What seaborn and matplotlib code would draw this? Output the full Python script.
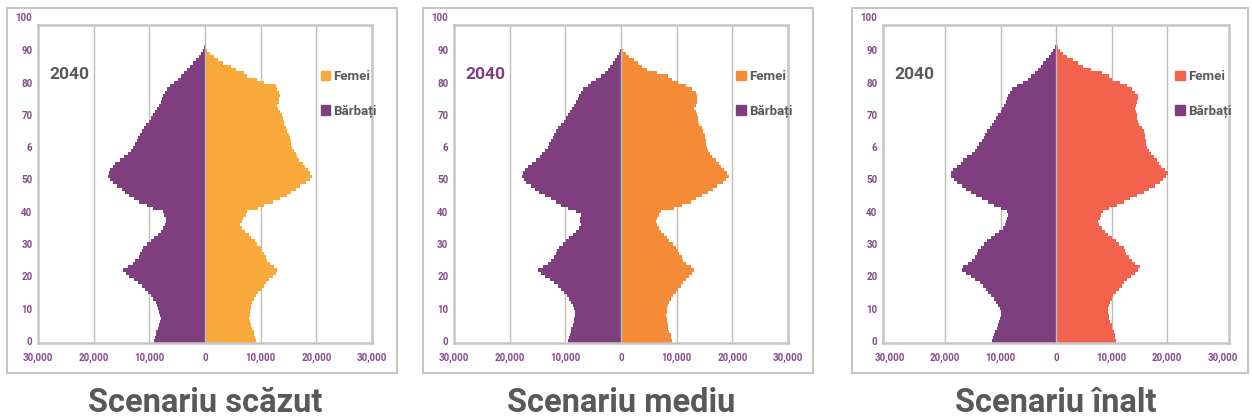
import numpy as np
import pandas as pd
import seaborn as sns
import matplotlib.pyplot as plt
from matplotlib.patches import Rectangle, Patch

ages = list(range(98))

# Scenariu scazut
low_women = [9100, 8900, 8800, 8700, 8500, 8200, 8100, 7900, 8000, 8100,
             8200, 8200, 8400, 8700, 9100, 9500, 10000, 10600, 11000, 11500,
             12200, 12700, 13000, 12400, 11700, 11200, 10900, 10600, 10300, 10000,
             9400, 8900, 8200, 7800, 7200, 6700, 6300, 6600, 6900, 7300,
             7600, 9500, 10600, 12200, 13500, 14800, 15500, 16300, 17100, 18200,
             18800, 19200, 18900, 18500, 17900, 17600, 16800, 16600, 16400, 16000,
             15600, 15400, 15400, 15300, 15000, 14800, 14600, 14200, 14100, 14000,
             13900, 13500, 13100, 13000, 13300, 13300, 13400, 13300, 13000, 12700,
             10600, 9400, 7600, 7000, 5600, 4600, 3300, 2400, 1600, 900,
             400, 250, 200, 150, 150, 100, 100, 100]
low_men = [9200, 9000, 8900, 8800, 8500, 8300, 8100, 8000, 8100, 8200,
           8400, 8600, 8900, 9300, 9700, 10200, 10800, 11400, 12000, 12800,
           13600, 14200, 14700, 13800, 13000, 12500, 11900, 11600, 11400, 11100,
           10500, 9700, 9100, 8500, 8000, 7500, 7200, 7000, 7100, 7300,
           7600, 9300, 10500, 11800, 12700, 13600, 14300, 15000, 15800, 16600,
           17000, 17500, 17300, 17000, 16600, 16200, 15300, 14500, 13900, 13300,
           12900, 12600, 12300, 12000, 11700, 11300, 10900, 10600, 10100, 9700,
           9300, 9000, 8700, 8300, 7900, 7700, 7500, 7200, 6800, 6300,
           5600, 4900, 4300, 3700, 3200, 2700, 2200, 1600, 1100, 700,
           400, 150, 50, 30, 20, 10, 10, 10]

# Scenariu mediu
mid_women = [9100, 9000, 8900, 8700, 8500, 8400, 8300, 8200, 8100, 8200,
             8300, 8500, 8700, 9000, 9300, 9800, 10300, 10800, 11200, 11600,
             12200, 12800, 13200, 12600, 11700, 11200, 10900, 10500, 10200, 9900,
             9300, 8700, 8200, 7700, 7200, 6800, 6400, 6300, 6500, 6800,
             7200, 9600, 11000, 12500, 13500, 14600, 15600, 16500, 17300, 18300,
             18900, 19400, 19000, 18500, 18000, 17600, 17000, 16400, 16000, 15700,
             15500, 15300, 15200, 15100, 15000, 14800, 14600, 14100, 13900, 13800,
             13700, 13500, 13200, 13400, 13600, 13700, 13700, 13400, 12700, 11700,
             10200, 9200, 8500, 6500, 4600, 3800, 3000, 2300, 1500, 900,
             400, 250, 200, 150, 150, 100, 100, 100]
mid_men = [9500, 9300, 9200, 9000, 8900, 8700, 8500, 8400, 8300, 8300,
           8400, 8600, 8900, 9300, 9700, 10300, 10800, 11300, 12000, 12800,
           13600, 14300, 14900, 14000, 13200, 12600, 12000, 11700, 11500, 11100,
           10500, 9900, 9300, 8700, 8000, 7500, 7200, 7300, 7300, 7200,
           8100, 9500, 10800, 11600, 12600, 13700, 14700, 15500, 16200, 17000,
           17400, 17800, 17600, 17200, 16700, 16000, 15300, 14600, 14100, 13600,
           13200, 12900, 12600, 12300, 12000, 11700, 11400, 10800, 10300, 9900,
           9600, 9200, 8800, 8400, 8100, 7800, 7500, 7200, 6900, 6000,
           5300, 4400, 3600, 2900, 2400, 1900, 1500, 1100, 700, 400,
           150, 50, 30, 20, 10, 10, 10, 10]

# Scenariu inalt
high_women = [10800, 10700, 10600, 10400, 10100, 10000, 9800, 9600, 9500, 9400,
              9400, 9600, 9800, 10000, 10300, 10800, 11300, 11800, 12300, 12800,
              13500, 14200, 14800, 15200, 14300, 13700, 13100, 12700, 12400, 12200,
              11400, 10800, 10000, 9300, 8800, 8300, 7800, 7600, 7900, 8100,
              8400, 9600, 11000, 12300, 13300, 14600, 15800, 16800, 17800, 18800,
              19300, 19800, 20100, 19600, 19000, 18600, 18200, 17700, 17200, 16800,
              16400, 16300, 16200, 16100, 16000, 15800, 15500, 15000, 14700, 14600,
              14600, 14500, 14200, 14400, 14600, 14800, 14800, 14300, 13700, 12800,
              11500, 10000, 9500, 8200, 6300, 4800, 3900, 3000, 2000, 1200,
              700, 400, 250, 200, 150, 100, 100, 100]
high_men = [11600, 11400, 11200, 11000, 10700, 10500, 10200, 10100, 10000, 10000,
            10100, 10400, 10800, 11200, 11700, 12200, 12700, 13200, 13800, 14600,
            15400, 16300, 17000, 16800, 15900, 15200, 14600, 14300, 14000, 13600,
            13000, 12500, 11800, 11000, 10300, 9500, 9200, 9000, 8800, 8600,
            8900, 10000, 11200, 12300, 13300, 14400, 15300, 16200, 17000, 17800,
            18400, 18900, 19000, 18500, 17800, 17200, 16700, 16000, 15200, 14700,
            14300, 13900, 13400, 13000, 12800, 12400, 12000, 11600, 11200, 10800,
            10500, 10000, 9700, 9400, 9100, 8800, 8600, 8300, 7900, 7000,
            5900, 5100, 4500, 3800, 3300, 2800, 2300, 1800, 1300, 900,
            600, 200, 80, 40, 20, 10, 10, 10]

titles = ["Scenariu scăzut", "Scenariu mediu", "Scenariu înalt"]
women_colors = ["#F9A83A", "#F58A37", "#F2624C"]
year_colors = ["#595959", "#7F3F7F", "#595959"]
men_color = "#7F3F7F"
tick_color = "#86488A"
x_ticks = [-30000, -20000, -10000, 0, 10000, 20000, 30000]
x_labels = ["30,000", "20,000", "10,000", "0", "10,000", "20,000", "30,000"]
y_ticks = [0, 10, 20, 30, 40, 50, 60, 70, 80, 90]
y_labels = ["0", "10", "20", "30", "40", "50", "6", "70", "80", "90"]

sns.set_theme(style="white")
plt.rcParams["font.family"] = ["Roboto", "DejaVu Sans"]

fig = plt.figure(figsize=(12.52, 4.19), dpi=100)

# axes boxes (fig fractions) and outer frames
ax_pos = [[0.0304, 0.1814, 0.2668, 0.759],
          [0.3626, 0.1814, 0.2668, 0.759],
          [0.7053, 0.1814, 0.2764, 0.759]]
frames = [[0.0056, 0.1098, 0.3115, 0.871],
          [0.3379, 0.1098, 0.3115, 0.871],
          [0.6805, 0.1098, 0.3165, 0.871]]
xlims = [(-30000, 30000), (-30000, 30000), (-31200, 31200)]
data = [(low_women, low_men), (mid_women, mid_men), (high_women, high_men)]

for i in range(3):
    women, men = data[i]
    df = pd.DataFrame({
        "age": ages + ages,
        "value": list(women) + [-v for v in men],
        "sex": ["Femei"] * len(ages) + ["Bărbați"] * len(ages),
    })
    ax = fig.add_axes(ax_pos[i])
    sns.barplot(data=df, x="value", y="age", hue="sex", orient="h",
                native_scale=True, dodge=False, width=1, errorbar=None,
                palette={"Femei": women_colors[i], "Bărbați": men_color},
                saturation=1, linewidth=0, legend=False, ax=ax)
    ax.set_xlim(*xlims[i])
    ax.set_ylim(-0.6, 97.8)
    for g in [-20000, -10000, 10000, 20000]:
        ax.axvline(g, color="#BDBDBD", lw=1, zorder=0)
    ax.axvline(0, color="#BDBDBD", lw=1, zorder=5)
    for s in ax.spines.values():
        s.set_color("#C6C6C6")
        s.set_linewidth(1.8)
    ax.set_xticks(x_ticks)
    ax.set_xticklabels(x_labels)
    ax.set_yticks(y_ticks)
    ax.set_yticklabels(y_labels)
    ax.tick_params(axis="both", length=0, labelsize=7, labelcolor=tick_color)
    ax.tick_params(axis="x", pad=7)
    ax.tick_params(axis="y", pad=4)
    for lab in ax.get_xticklabels() + ax.get_yticklabels():
        lab.set_fontweight("bold")
    ax.text(-0.018, 100, "100", transform=ax.get_yaxis_transform(),
            ha="right", va="center", fontsize=7, fontweight="bold",
            color=tick_color, clip_on=False)
    ax.set_xlabel("")
    ax.set_ylabel("")

    ax.text(0.033, 0.843, "2040", transform=ax.transAxes, ha="left",
            va="center", fontsize=12.5, fontweight="bold", color=year_colors[i])

    handles = [Patch(color=women_colors[i], label="Femei"),
               Patch(color=men_color, label="Bărbați")]
    leg = ax.legend(handles=handles, loc="upper left",
                    bbox_to_anchor=(0.81, 0.895), frameon=False,
                    fontsize=9.5, handlelength=0.75, handleheight=0.75,
                    handletextpad=0.2, labelspacing=1.6)
    for t in leg.get_texts():
        t.set_fontweight("bold")
        t.set_color("#595959")

    ax.text(0, -0.218, titles[i], transform=ax.get_xaxis_transform(),
            ha="center", va="baseline", fontsize=23.5, fontweight="bold",
            color="#595959", clip_on=False)

    fig.add_artist(Rectangle((frames[i][0], frames[i][1]), frames[i][2],
                             frames[i][3], transform=fig.transFigure,
                             fill=False, edgecolor="#C6C6C6", lw=1.5))

fig.savefig("out.png", dpi=100)
